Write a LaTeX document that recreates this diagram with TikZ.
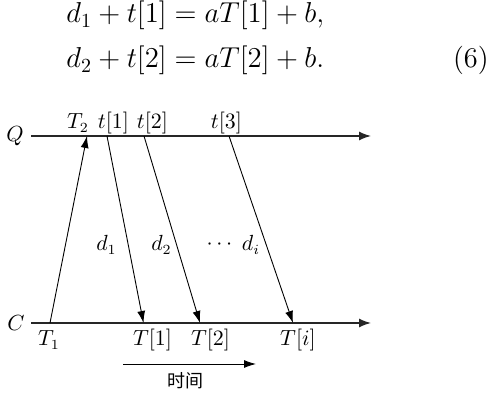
\documentclass[tikz,border=0pt]{standalone}
\usepackage{fontspec}
\newfontfamily\cjk{Noto Sans CJK SC}
\usetikzlibrary{arrows.meta}
\begin{document}
\begin{tikzpicture}[x=0.5pt,y=-0.5pt,
  axis/.style={line width=0.7pt,draw=black!85,-{Latex[length=6pt,width=4.5pt]}},
  msg/.style={line width=0.45pt,-{Latex[length=6pt,width=4pt]}},
  lbl/.style={inner sep=0pt,font=\fontsize{10.5}{12}\selectfont},
  eqn/.style={inner sep=0pt,anchor=base west,font=\fontsize{14.2}{16}\selectfont}]
\useasboundingbox (0,0) rectangle (492,394);
% equations
\node[eqn] (e1) at (66,23) {$d_1+t[1]=aT[1]+b,$};
\node[eqn] (e2) at (66,68) {$d_2+t[2]=aT[2]+b.$};
\node[eqn,anchor=base east] (en) at (489,68) {(6)};
% axes
\coordinate (qs) at (31,136); \coordinate (qe) at (371,136);
\coordinate (cs) at (31,323); \coordinate (ce) at (371,323);
\node[lbl] (Q) at (15,136) {$Q$};
\node[lbl] (C) at (16,323) {$C$};
\draw[axis] (qs) -- (qe);
\draw[axis] (cs) -- (ce);
% points
\coordinate (T1p) at (50,323); \coordinate (T2p) at (87,136);
\coordinate (t1p) at (107,136); \coordinate (t2p) at (144,136); \coordinate (t3p) at (229,136);
\coordinate (c1p) at (143.5,323); \coordinate (c2p) at (200,323); \coordinate (cip) at (293,323);
\draw[msg] (T1p) -- (T2p);
\draw[msg] (t1p) -- (c1p);
\draw[msg] (t2p) -- (c2p);
\draw[msg] (t3p) -- (cip);
% top labels
\node[lbl] (lT2) at (78,123) {$T_2$};
\node[lbl] (lt1) at (113.5,123) {$t[1]$};
\node[lbl] (lt2) at (152.5,123) {$t[2]$};
\node[lbl] (lt3) at (226.5,123) {$t[3]$};
% bottom labels
\node[lbl] (lT1) at (49,340) {$T_1$};
\node[lbl] (lc1) at (152.5,340) {$T[1]$};
\node[lbl] (lc2) at (210.5,340) {$T[2]$};
\node[lbl] (lci) at (298,340) {$T[i]$};
% middle labels
\node[lbl] (d1) at (106.5,245) {$d_1$};
\node[lbl] (d2) at (161.5,245) {$d_2$};
\node[lbl] (dd) at (219.5,245) {$\cdots$};
\node[lbl] (di) at (251,245) {$d_i$};
% time arrow
\coordinate (ts) at (123,364); \coordinate (te) at (256,364);
\draw[msg] (ts) -- (te);
\node[inner sep=0pt,font=\cjk\fontsize{9}{10}\selectfont] (time) at (185,381) {时间};
\end{tikzpicture}
\end{document}
